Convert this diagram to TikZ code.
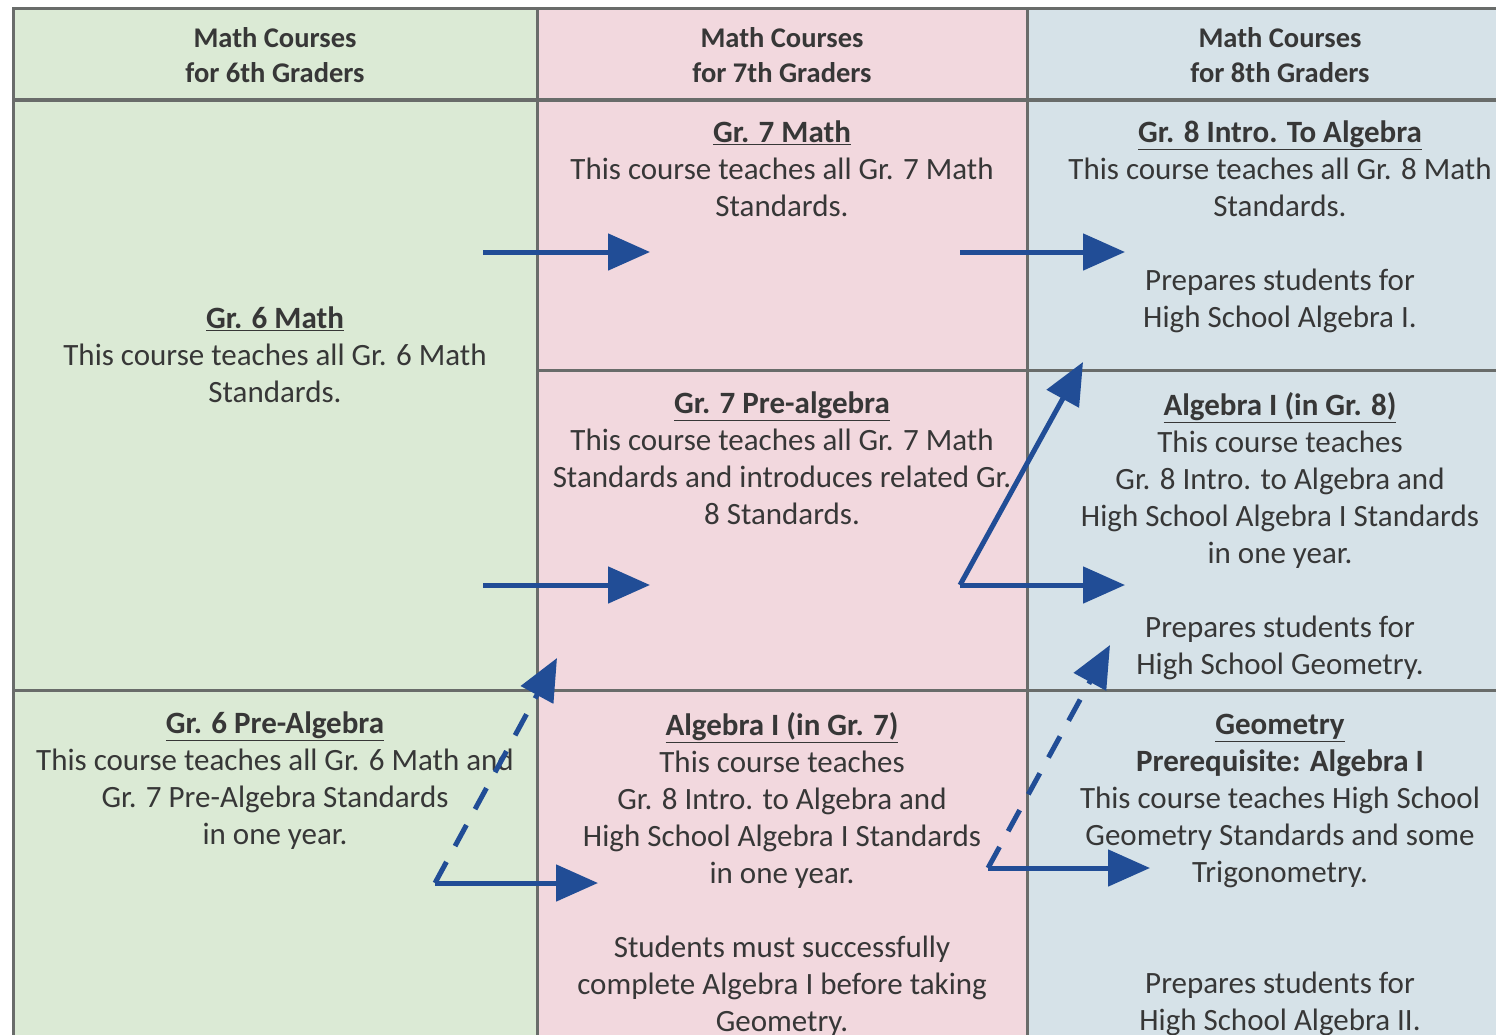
\documentclass[tikz,border=0pt]{standalone}
\usepackage{fontspec}
\setmainfont{Carlito}
\usetikzlibrary{arrows.meta}

\definecolor{cellgreen}{RGB}{219,234,213}
\definecolor{cellpink}{RGB}{242,216,222}
\definecolor{cellblue}{RGB}{214,226,232}
\definecolor{gridgray}{RGB}{105,108,106}
\definecolor{inkgray}{RGB}{55,55,55}
\definecolor{arrowblue}{RGB}{33,77,150}

\tikzstyle{grid}=[draw=gridgray, line width=3pt]
\tikzstyle{header}=[align=center, inner sep=0pt, text=inkgray, font=\bfseries\fontsize{28.5}{35}\selectfont]
\tikzstyle{course}=[align=center, inner sep=0pt, anchor=north, text=inkgray, font=\fontsize{31}{37}\selectfont]
\tikzstyle{flow}=[draw=arrowblue, line width=5pt, -{Triangle[length=42pt,width=36pt]}]
\tikzstyle{maybe}=[flow, dash pattern=on 24pt off 18pt]
\newcommand{\ctitle}[1]{\underline{\textbf{#1}}}

\begin{document}
\begin{tikzpicture}[x=1pt, y=-1pt]
    \useasboundingbox (0,0) rectangle (1496,1034);
    \clip (0,0) rectangle (1496,1034);
    % First we fill the three columns
    \foreach \x/\w/\col in {13/537/cellgreen, 537/1027/cellpink, 1027/1500/cellblue}
        \fill[\col] (\x,8) rectangle (\w,1040);
    % Grid lines of the table
    \draw[grid] (13,1040) -- (13,8) -- (1500,8);
    \foreach \x in {537,1027}
        \draw[grid] (\x,8) -- (\x,1040);
    \draw[grid, line width=4pt] (13,100) -- (1500,100);
    \draw[grid] (13,690) -- (1500,690);
    \draw[grid] (537,370) -- (1500,370);

    % Column headers
    \foreach \x/\g/\name in {275/6th/h6, 782/7th/h7, 1280/8th/h8}
        \node[header] (\name) at (\x,55) {Math Courses\\for \g{} Graders};

    % Courses for 6th graders
    \node[course] (g6math) at (275,307) {\ctitle{Gr. 6 Math}\\This course teaches all Gr. 6 Math\\Standards.};
    \node[course] (g6pre) at (275,712) {\ctitle{Gr. 6 Pre-Algebra}\\This course teaches all Gr. 6 Math and\\Gr. 7 Pre-Algebra Standards\\in one year.};

    % Courses for 7th graders
    \node[course] (g7math) at (782,121) {\ctitle{Gr. 7 Math}\\This course teaches all Gr. 7 Math\\Standards.};
    \node[course] (g7pre) at (782,392) {\ctitle{Gr. 7 Pre-algebra}\\This course teaches all Gr. 7 Math\\Standards and introduces related Gr.\\8 Standards.};
    \node[course] (g7alg) at (782,712) {\ctitle{Algebra I (in Gr. 7)}\\This course teaches\\Gr. 8 Intro. to Algebra and\\High School Algebra I Standards\\in one year.\\[37pt]Students must successfully\\complete Algebra I before taking\\Geometry.};

    % Courses for 8th graders
    \node[course] (g8intro) at (1280,121) {\ctitle{Gr. 8 Intro. To Algebra}\\This course teaches all Gr. 8 Math\\Standards.\\[37pt]Prepares students for\\High School Algebra I.};
    \node[course] (g8alg) at (1280,392) {\ctitle{Algebra I (in Gr. 8)}\\This course teaches\\Gr. 8 Intro. to Algebra and\\High School Algebra I Standards\\in one year.\\[37pt]Prepares students for\\High School Geometry.};
    \node[course] (g8geo) at (1280,714) {\ctitle{Geometry}\\\textbf{Prerequisite: Algebra I}\\This course teaches High School\\Geometry Standards and some\\Trigonometry.\\[74pt]Prepares students for\\High School Algebra II.};

    % Ends of the arrows
    \foreach \pos/\name in {{(483,252)/g6m-a}, {(650,252)/g7m-in}, {(960,252)/g7m-out}, {(1125,252)/g8i-in},
                            {(483,585)/g6m-b}, {(650,585)/g7p-in}, {(960,585)/g7p-out}, {(1125,585)/g8a-in},
                            {(1083,362)/g8i-up}, {(435,883)/g6p-out}, {(598,883)/g7a-in}, {(557,658)/g7p-up},
                            {(988,868)/g7a-out}, {(1150,868)/g8g-in}, {(1110,645)/g8a-up}}
        \node[coordinate] (\name) at \pos {};

    % Paths from one year to the next
    \foreach \source/\dest in {g6m-a/g7m-in, g7m-out/g8i-in, g6m-b/g7p-in, g7p-out/g8a-in,
                               g7p-out/g8i-up, g6p-out/g7a-in, g7a-out/g8g-in}
        \path[flow] (\source) -- (\dest);
    \foreach \source/\dest in {g6p-out/g7p-up, g7a-out/g8a-up}
        \path[maybe] (\source) -- (\dest);
\end{tikzpicture}
\end{document}
